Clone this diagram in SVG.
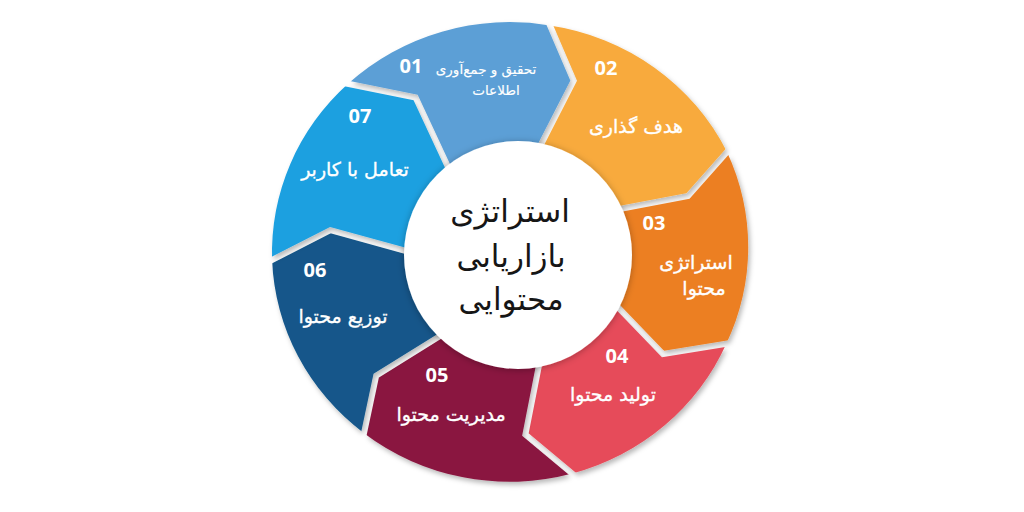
<svg xmlns="http://www.w3.org/2000/svg" width="1024" height="512" viewBox="0 0 1024 512">
<defs>
<style>
.num{font-family:"Open Sans","DejaVu Sans",sans-serif;font-weight:700;font-size:20px;fill:#ffffff;text-anchor:middle}
.lbl{font-family:"DejaVu Sans",sans-serif;font-size:19px;fill:#ffffff;stroke:#ffffff;stroke-width:0.35px;text-anchor:middle}
.sm{font-size:13.5px;stroke-width:0.15px}
.ctr{font-family:"DejaVu Sans",sans-serif;font-size:31px;fill:#161616;text-anchor:middle}
.gap{fill:none;stroke:#000000;stroke-width:6;stroke-linecap:square;stroke-linejoin:miter}
</style>
<filter id="sh" x="-20%" y="-20%" width="140%" height="140%">
<feDropShadow dx="2" dy="3" stdDeviation="2.5" flood-color="#000000" flood-opacity="0.28"/>
</filter>
<filter id="csh" x="-20%" y="-20%" width="140%" height="140%">
<feDropShadow dx="0" dy="1" stdDeviation="3.5" flood-color="#000000" flood-opacity="0.3"/>
</filter>
<mask id="gaps" maskUnits="userSpaceOnUse" x="0" y="0" width="1024" height="512">
<rect x="0" y="0" width="1024" height="512" fill="#ffffff"/>
<polyline class="gap" points="348,83.8 415.6,97.5 451.7,174.9"/>
<polyline class="gap" points="550,25.5 573.7,80.7 536.8,152.7"/>
<polyline class="gap" points="727,152 688,196 611.9,210.4"/>
<polyline class="gap" points="726.3,343.7 663,354 611.5,300.6"/>
<polyline class="gap" points="572.3,473.6 525.4,434.5 540.7,356.5"/>
<polyline class="gap" points="364,433.2 376.2,375.7 447.5,331.4"/>
<polyline class="gap" points="272.1,260 330.4,230.1 414,253.2"/>
</mask>
</defs>
<rect x="0" y="0" width="1024" height="512" fill="#ffffff"/>
<g id="cycle">
<g id="step-01">
<g filter="url(#sh)"><path mask="url(#gaps)" fill="#5b9fd6" d="M 348 83.8 A 237 230 0 0 1 550 25.5 L 573.7 80.7 L 536.8 152.7 A 104 104 0 0 0 451.7 174.9 L 415.6 97.5 Z"/></g>
<text class="num" x="411" y="73">01</text>
<text class="lbl sm" x="486" y="74">تحقیق و جمع‌آوری</text>
<text class="lbl sm" x="496" y="95">اطلاعات</text>
</g>
<g id="step-02">
<g filter="url(#sh)"><path mask="url(#gaps)" fill="#f8aa3c" d="M 550 25.5 A 237 230 0 0 1 727 152 L 688 196 L 611.9 210.4 A 104 104 0 0 0 536.8 152.7 L 573.7 80.7 Z"/></g>
<text class="num" x="606" y="75">02</text>
<text class="lbl" x="636" y="133">هدف گذاری</text>
</g>
<g id="step-03">
<g filter="url(#sh)"><path mask="url(#gaps)" fill="#ec7f22" d="M 727 152 A 237 230 0 0 1 726.3 343.7 L 663 354 L 611.5 300.6 A 104 104 0 0 0 611.9 210.4 L 688 196 Z"/></g>
<text class="num" x="654" y="230">03</text>
<text class="lbl" x="696" y="269">استراتژی</text>
<text class="lbl" x="704" y="295">محتوا</text>
</g>
<g id="step-04">
<g filter="url(#sh)"><path mask="url(#gaps)" fill="#e64c5a" d="M 726.3 343.7 A 237 230 0 0 1 572.3 473.6 L 525.4 434.5 L 540.7 356.5 A 104 104 0 0 0 611.5 300.6 L 663 354 Z"/></g>
<text class="num" x="617" y="363">04</text>
<text class="lbl" x="613" y="401">تولید محتوا</text>
</g>
<g id="step-05">
<g filter="url(#sh)"><path mask="url(#gaps)" fill="#8a1840" d="M 572.3 473.6 A 237 230 0 0 1 364 433.2 L 376.2 375.7 L 447.5 331.4 A 104 104 0 0 0 540.7 356.5 L 525.4 434.5 Z"/></g>
<text class="num" x="437" y="382">05</text>
<text class="lbl" x="451" y="421">مدیریت محتوا</text>
</g>
<g id="step-06">
<g filter="url(#sh)"><path mask="url(#gaps)" fill="#13578a" d="M 364 433.2 A 237 230 0 0 1 272.1 260 L 330.4 230.1 L 414 253.2 A 104 104 0 0 0 447.5 331.4 L 376.2 375.7 Z"/></g>
<text class="num" x="315" y="277">06</text>
<text class="lbl" x="343" y="323">توزیع محتوا</text>
</g>
<g id="step-07">
<g filter="url(#sh)"><path mask="url(#gaps)" fill="#1ea0e0" d="M 272.1 260 A 237 230 0 0 1 348 83.8 L 415.6 97.5 L 451.7 174.9 A 104 104 0 0 0 414 253.2 L 330.4 230.1 Z"/></g>
<text class="num" x="360" y="123">07</text>
<text class="lbl" x="355" y="176">تعامل با کاربر</text>
</g>
</g>
<g id="center">
<circle cx="518" cy="255" r="114" fill="#ffffff" filter="url(#csh)"/>
<text class="ctr" x="510" y="222">استراتژی</text>
<text class="ctr" x="511" y="267">بازاریابی</text>
<text class="ctr" x="511" y="310">محتوایی</text>
</g>
<g id="connectors"></g>
</svg>
